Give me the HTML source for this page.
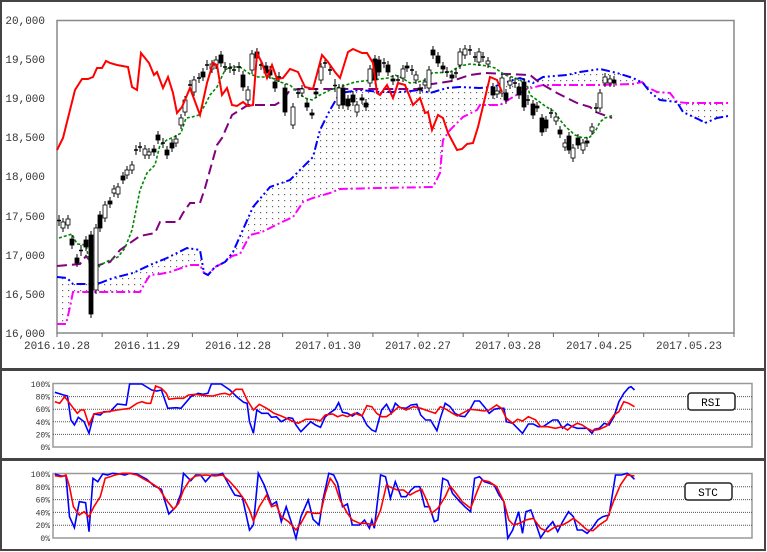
<!DOCTYPE html>
<html><head><meta charset="utf-8"><style>
html,body{margin:0;padding:0;background:#fff;}
svg{display:block;}
text{font-family:"Liberation Mono","Liberation Sans",monospace;}
</style></head><body>
<svg id="s" width="767" height="552" xmlns="http://www.w3.org/2000/svg">
<defs>
<pattern id="dots" width="6" height="6" patternUnits="userSpaceOnUse"><rect x="2" y="2" width="1.2" height="1.2" fill="#666"/></pattern>
</defs>
<rect x="1" y="1" width="764" height="368" fill="#fff" stroke="#444" stroke-width="2"/>
<rect x="1" y="370" width="764" height="89" fill="#fff" stroke="#444" stroke-width="2"/>
<rect x="1" y="460" width="764" height="90" fill="#fff" stroke="#444" stroke-width="2"/>
<rect x="57" y="20.5" width="677" height="312.5" fill="#fff" stroke="#888" stroke-width="1.5"/>
<g font-size="11" fill="#333" text-anchor="end">
<text x="45" y="24">20,000</text><text x="45" y="63">19,500</text><text x="45" y="102">19,000</text>
<text x="45" y="141">18,500</text><text x="45" y="180">18,000</text><text x="45" y="220">17,500</text>
<text x="45" y="259">17,000</text><text x="45" y="298">16,500</text><text x="45" y="337">16,000</text>
</g>
<g font-size="11" fill="#333" text-anchor="middle">
<text x="57" y="349">2016.10.28</text><text x="147" y="349">2016.11.29</text><text x="238" y="349">2016.12.28</text>
<text x="328" y="349">2017.01.30</text><text x="418" y="349">2017.02.27</text><text x="508" y="349">2017.03.28</text>
<text x="599" y="349">2017.04.25</text><text x="689" y="349">2017.05.23</text>
</g>
<g id="g"></g>
<!-- lower panels -->
<rect x="53" y="383.5" width="699" height="63.5" fill="#fff" stroke="#999" stroke-width="1.5"/>
<rect x="53" y="473.5" width="699" height="64.5" fill="#fff" stroke="#999" stroke-width="1.5"/>
<g id="low"></g>
<rect x="688" y="393" width="47" height="17" rx="3" fill="#fff" stroke="#222" stroke-width="1.5"/>
<text x="711" y="406" font-size="11" text-anchor="middle" font-family="Liberation Sans" fill="#000">RSI</text>
<rect x="685" y="483" width="47" height="17" rx="3" fill="#fff" stroke="#222" stroke-width="1.5"/>
<text x="708" y="496" font-size="11" text-anchor="middle" font-family="Liberation Sans" fill="#000">STC</text>
</svg>
<script>
var NS="http://www.w3.org/2000/svg";
function el(p,t,a){var e=document.createElementNS(NS,t);for(var k in a)e.setAttribute(k,a[k]);p.appendChild(e);return e;}
function P(a){return a.map(function(p){return p[0]+","+p[1]}).join(" ");}
var g=document.getElementById("g"),low=document.getElementById("low");
// ticks
for(var i=0;i<16;i++){var x=57+i*45.13;el(g,"line",{x1:x,y1:333,x2:x,y2:337,stroke:"#666"});}
var blue=[[57,277],[67,278],[73,284],[90,284],[100,283],[113,278],[133,273],[150,265],[167,258],[187,248],[200,250],[204,273],[208,275],[215,267],[225,262],[233,252],[253,207],[270,187],[290,180],[300,170],[313,157],[320,130],[330,110],[340,93],[360,90],[380,92],[400,92],[420,90],[430,93],[447,88],[460,87],[480,88],[493,87],[513,80],[520,78],[533,83],[543,77],[567,75],[580,72],[600,69],[617,73],[633,78],[643,83],[650,92],[660,100],[677,102],[683,112],[700,120],[705,123],[717,118],[728,116]];
var mag=[[57,324],[66,324],[70,307],[73,292],[90,292],[140,292],[145,283],[150,275],[160,274],[170,272],[190,265],[200,265],[204,273],[208,275],[215,267],[225,262],[232,256],[240,254],[250,235],[262,232],[270,228],[280,223],[293,217],[303,202],[313,198],[330,193],[340,189],[380,188],[433,187],[440,173],[443,140],[450,130],[463,117],[477,110],[480,105],[500,105],[513,97],[527,89],[543,85],[567,85],[600,85],[633,84],[642,82],[647,87],[657,92],[670,93],[677,102],[687,103],[728,103]];
el(g,"polygon",{points:P(blue.concat(mag.slice().reverse())),fill:"url(#dots)",stroke:"none"});
el(g,"polyline",{points:P(mag),fill:"none",stroke:"#f0f","stroke-width":2,"stroke-dasharray":"9 3 2 3"});
el(g,"polyline",{points:P(blue),fill:"none",stroke:"#00f","stroke-width":2,"stroke-dasharray":"9 3 2 3 2 3"});
var kij=[[57,266],[80,264],[86,256],[91,262],[95,266],[110,262],[120,250],[130,243],[140,236],[155,233],[160,222],[178,222],[183,213],[190,203],[200,203],[205,188],[210,170],[217,145],[222,138],[232,115],[240,110],[248,105],[275,105],[283,100],[290,90],[300,89],[420,89],[432,84],[452,81],[470,75],[485,73],[530,75],[540,83],[557,93],[577,103],[590,107],[596,112],[612,118]];
el(g,"polyline",{points:P(kij),fill:"none",stroke:"#800080","stroke-width":2,"stroke-dasharray":"10 5"});
var ten=[[59,238],[72,234],[77,244],[86,245],[91,272],[95,275],[100,265],[110,260],[118,257],[125,248],[132,230],[136,210],[140,190],[147,173],[152,168],[155,165],[160,145],[167,140],[174,137],[181,133],[186,118],[192,117],[199,115],[205,105],[210,95],[217,87],[225,70],[230,67],[240,67],[250,74],[258,77],[270,77],[280,82],[290,85],[297,92],[305,98],[312,100],[320,95],[330,90],[340,87],[355,82],[372,80],[388,78],[395,75],[402,78],[410,83],[418,82],[425,80],[432,73],[450,72],[460,66],[470,64],[488,66],[495,68],[505,75],[515,78],[520,80],[527,85],[530,95],[537,100],[545,106],[555,112],[560,120],[566,127],[575,135],[583,138],[590,137],[596,130],[600,122],[605,118],[614,115]];
el(g,"polyline",{points:P(ten),fill:"none",stroke:"#080","stroke-width":1.6,"stroke-dasharray":"3 2"});
// candles [x,top,bot,type]
var C=[[59,219,222,"c"],[63,222,228,"h"],[68,219,225,"h"],[72,239,245,"b"],[77,258,263,"b"],[81,249,252,"c"],[86,240,247,"b"],[91,235,314,"b"],[96,228,290,"h"],[100,215,228,"b"],[105,205,218,"h"],[110,201,204,"b"],[114,189,193,"h"],[118,187,194,"h"],[123,176,180,"b"],[127,170,175,"h"],[132,165,170,"h"],[136,149,151,"c"],[140,146,148,"c"],[145,149,155,"h"],[149,152,155,"h"],[154,149,152,"b"],[158,135,140,"b"],[163,142,144,"c"],[167,150,155,"b"],[172,143,148,"b"],[176,139,143,"h"],[181,118,125,"h"],[185,100,112,"h"],[190,84,86,"c"],[194,80,92,"h"],[199,77,79,"c"],[203,72,77,"b"],[207,64,66,"c"],[212,64,69,"h"],[216,60,65,"h"],[221,55,63,"b"],[225,66,68,"c"],[230,67,69,"c"],[234,69,71,"c"],[239,66,68,"c"],[243,75,87,"b"],[248,90,100,"h"],[252,54,70,"h"],[257,52,58,"b"],[261,64,66,"c"],[266,66,73,"b"],[270,70,75,"b"],[275,82,88,"b"],[279,76,78,"c"],[285,88,112,"b"],[293,107,125,"h"],[298,92,94,"c"],[302,89,93,"h"],[307,103,107,"b"],[312,113,115,"b"],[316,92,94,"b"],[321,67,80,"h"],[325,62,64,"c"],[330,69,71,"c"],[335,83,88,"c"],[339,88,105,"h"],[343,88,105,"b"],[348,99,106,"b"],[353,95,102,"b"],[357,105,112,"h"],[362,98,100,"b"],[366,103,107,"b"],[370,69,83,"h"],[375,59,80,"b"],[379,60,72,"b"],[384,62,64,"c"],[388,65,72,"b"],[393,79,81,"b"],[398,79,81,"c"],[403,69,78,"h"],[407,66,68,"b"],[412,69,71,"c"],[416,75,80,"h"],[420,88,90,"b"],[425,82,85,"h"],[429,70,88,"h"],[433,50,55,"b"],[438,56,63,"b"],[443,66,69,"b"],[447,71,73,"c"],[452,75,78,"b"],[456,72,74,"c"],[460,52,65,"h"],[465,49,55,"h"],[470,49,51,"c"],[475,56,58,"c"],[479,52,62,"h"],[483,56,58,"c"],[488,61,64,"h"],[493,87,95,"b"],[497,91,94,"h"],[502,78,93,"h"],[506,93,100,"b"],[510,81,85,"h"],[515,82,84,"c"],[519,87,95,"b"],[524,82,107,"b"],[528,99,101,"c"],[533,104,115,"b"],[537,106,108,"b"],[542,118,132,"b"],[546,120,128,"b"],[551,112,114,"c"],[556,117,121,"h"],[560,130,134,"b"],[565,143,147,"h"],[569,136,150,"b"],[573,148,158,"h"],[578,138,145,"b"],[583,143,150,"h"],[587,141,143,"b"],[592,127,131,"h"],[596,107,109,"c"],[600,93,108,"h"],[605,77,83,"h"],[610,79,83,"h"],[614,80,83,"b"]];
C.forEach(function(c){var x=c[0],t=c[1],b=c[2];
 el(g,"line",{x1:x,y1:t-4,x2:x,y2:b+4,stroke:"#000","stroke-width":1});
 if(c[3]=="c"){el(g,"line",{x1:x-2,y1:(t+b)/2,x2:x+2,y2:(t+b)/2,stroke:"#000","stroke-width":1.5});}
 else el(g,"rect",{x:x-2,y:t,width:4,height:Math.max(b-t,2),fill:c[3]=="b"?"#000":"#fff",stroke:"#000","stroke-width":0.8});
});
var red=[[57,150],[63,138],[70,110],[75,90],[82,79],[88,79],[93,77],[97,68],[102,68],[106,61],[110,63],[117,65],[128,67],[132,87],[137,90],[141,53],[149,63],[154,75],[157,72],[163,88],[168,77],[173,93],[177,113],[182,107],[190,88],[200,115],[207,83],[213,63],[217,65],[222,95],[227,88],[232,105],[237,106],[243,102],[248,106],[253,105],[257,53],[262,63],[267,78],[272,65],[277,79],[283,78],[290,69],[298,72],[305,87],[313,89],[322,55],[328,62],[335,72],[340,78],[348,52],[353,49],[362,53],[367,53],[373,63],[377,93],[380,95],[387,85],[393,98],[398,83],[405,85],[413,105],[420,98],[425,113],[428,112],[432,130],[438,115],[443,118],[448,133],[457,150],[462,149],[467,144],[473,143],[478,127],[484,102],[490,77],[497,80],[502,92]];
el(g,"polyline",{points:P(red),fill:"none",stroke:"#f00","stroke-width":2});
// lower panels
[[384,447],[474,538]].forEach(function(r){
 for(var k=1;k<5;k++){var y=r[1]-(r[1]-r[0])*k/5;el(low,"line",{x1:53,y1:y,x2:752,y2:y,stroke:"#555","stroke-width":1,"stroke-dasharray":"1 1"});}
 for(var k=0;k<=5;k++){var y=r[1]-(r[1]-r[0])*k/5;var t=el(low,"text",{x:50,y:y+3,"font-size":8,"text-anchor":"end",fill:"#333","font-family":"Liberation Sans"});t.textContent=(k*20)+"%";}
});
function Z(a){return a.map(function(p){return [(p[0]/2.044).toFixed(1),(360+p[1]/3).toFixed(1)]});}
var rb=[[112,97],[130,105],[138,108],[145,180],[152,195],[160,172],[172,185],[182,220],[192,162],[205,165],[212,155],[225,155],[240,132],[258,135],[265,72],[290,72],[310,90],[320,93],[330,90],[343,145],[360,143],[370,145],[390,110],[405,100],[415,103],[425,100],[432,72],[452,72],[470,90],[485,112],[498,127],[505,130],[510,185],[518,220],[525,150],[535,160],[548,160],[555,172],[565,170],[575,185],[590,173],[598,175],[605,195],[615,215],[625,200],[635,185],[645,195],[655,202],[665,170],[675,158],[685,148],[692,128],[700,157],[710,160],[720,168],[730,158],[740,167],[750,195],[760,210],[768,215],[780,150],[790,133],[800,160],[808,130],[818,143],[830,145],[840,135],[852,133],[860,165],[870,180],[880,180],[893,212],[900,175],[910,130],[920,140],[930,160],[940,168],[950,170],[960,150],[970,123],[980,123],[990,140],[1000,160],[1010,148],[1020,145],[1030,145],[1035,185],[1048,190],[1068,220],[1080,192],[1090,192],[1100,200],[1110,200],[1130,180],[1140,180],[1150,205],[1160,192],[1170,200],[1180,205],[1200,205],[1210,220],[1215,208],[1225,205],[1235,190],[1245,195],[1255,170],[1265,125],[1275,100],[1285,83],[1290,80],[1297,90]];
var rr=[[112,125],[122,130],[132,110],[140,125],[150,145],[158,160],[165,150],[172,150],[182,195],[192,162],[205,158],[220,155],[240,150],[265,145],[280,130],[290,125],[300,130],[308,130],[318,78],[330,85],[340,100],[345,118],[360,115],[375,115],[385,105],[400,103],[420,107],[435,108],[450,102],[460,100],[470,105],[482,88],[495,88],[505,120],[518,150],[530,133],[545,145],[560,160],[575,168],[590,178],[600,185],[610,190],[625,178],[640,178],[655,182],[665,165],[680,162],[690,170],[700,165],[710,170],[725,160],[740,168],[750,137],[760,140],[770,160],[780,170],[790,170],[800,160],[815,140],[830,150],[845,140],[860,145],[880,155],[890,160],[900,140],[912,148],[925,160],[935,168],[945,160],[960,148],[975,150],[990,153],[1000,150],[1015,135],[1025,145],[1035,175],[1048,190],[1058,178],[1068,183],[1080,170],[1095,180],[1105,200],[1120,200],[1135,205],[1150,200],[1160,210],[1170,198],[1180,190],[1190,195],[1200,205],[1210,212],[1225,208],[1240,198],[1255,165],[1265,155],[1275,125],[1285,130],[1297,140]];
var sb=[[112,342],[125,348],[135,348],[142,470],[152,503],[162,425],[175,428],[182,515],[190,355],[200,365],[210,342],[220,345],[230,340],[245,342],[255,345],[265,340],[280,342],[290,350],[300,358],[315,378],[330,388],[345,462],[360,440],[370,400],[375,340],[390,362],[400,345],[410,345],[420,365],[432,345],[445,345],[455,340],[470,380],[480,405],[495,410],[510,510],[518,495],[528,340],[540,375],[555,435],[565,425],[575,485],[585,440],[595,485],[605,535],[615,470],[630,420],[640,478],[652,495],[660,420],[672,340],[682,345],[690,370],[700,440],[710,432],[720,495],[735,495],[745,480],[755,505],[760,480],[765,505],[778,345],[788,350],[798,415],[808,365],[820,410],[830,410],[840,390],[848,380],[858,380],[868,440],[878,440],[888,485],[895,480],[905,355],[915,362],[925,400],[940,425],[950,440],[962,455],[970,355],[980,350],[990,365],[1000,370],[1010,375],[1020,405],[1030,425],[1038,535],[1048,510],[1060,455],[1068,520],[1075,455],[1085,450],[1095,490],[1105,533],[1118,505],[1130,485],[1140,515],[1150,485],[1162,455],[1172,470],[1180,510],[1190,510],[1200,520],[1210,505],[1222,480],[1232,470],[1245,465],[1258,345],[1270,345],[1282,340],[1290,348],[1297,358]];
var sr=[[112,347],[125,350],[135,345],[142,380],[150,440],[162,465],[172,455],[182,470],[192,440],[205,410],[215,355],[225,350],[235,345],[250,340],[265,340],[280,345],[295,358],[310,370],[325,385],[340,420],[355,448],[365,430],[375,390],[388,360],[400,348],[420,345],[440,348],[455,345],[470,365],[485,390],[500,420],[510,450],[518,483],[530,440],[545,405],[555,440],[565,435],[575,470],[590,485],[605,510],[615,490],[628,455],[642,460],[655,460],[665,400],[675,355],[685,375],[695,420],[710,460],[720,480],[735,490],[748,490],[765,495],[778,450],[790,375],[800,383],[812,390],[825,390],[838,405],[850,395],[862,388],[872,420],[882,460],[895,445],[910,410],[920,378],[932,400],[945,425],[962,445],[975,395],[985,360],[1000,365],[1015,380],[1030,425],[1040,480],[1050,495],[1062,490],[1075,480],[1090,475],[1105,505],[1120,515],[1135,500],[1150,495],[1162,485],[1172,475],[1185,490],[1200,510],[1212,512],[1225,495],[1240,480],[1255,420],[1268,375],[1282,345],[1297,348]];
el(low,"polyline",{points:P(Z(rb)),fill:"none",stroke:"#00f","stroke-width":1.6});
el(low,"polyline",{points:P(Z(rr)),fill:"none",stroke:"#f00","stroke-width":1.6});
el(low,"polyline",{points:P(Z(sb)),fill:"none",stroke:"#00f","stroke-width":1.6});
el(low,"polyline",{points:P(Z(sr)),fill:"none",stroke:"#f00","stroke-width":1.6});
</script>
</body></html>
